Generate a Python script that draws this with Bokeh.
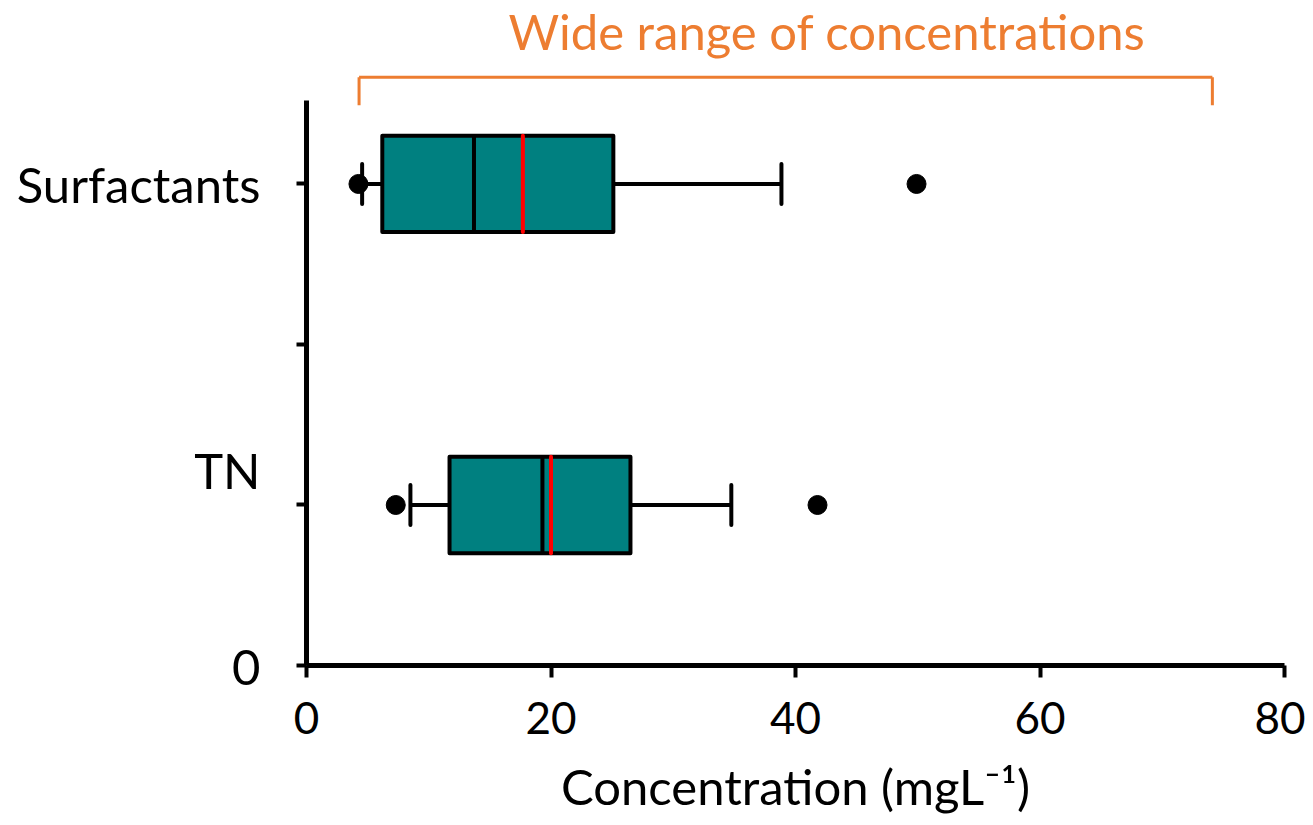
from bokeh.plotting import figure
from bokeh.models import ColumnDataSource, Range1d, FixedTicker, Label
from bokeh.embed import file_html
from bokeh.resources import INLINE

# ---- data ----
categories = ["Surfactants", "TN"]
positions = [3, 1]
whisker_low = [4.55, 8.5]
q1 = [6.2, 11.7]
median = [13.7, 19.3]
mean = [17.7, 20.0]
q3 = [25.1, 26.5]
whisker_high = [38.85, 34.75]

outlier_positions = [3, 3, 1, 1]
outlier_values = [4.25, 49.9, 7.3, 41.8]

y_ticks = [0, 1, 2, 3]
y_tick_labels = ["0", "TN\n", "", "Surfactants"]
x_ticks = [0, 20, 40, 60, 80]
x_title = "Concentration (mgL\u207b\u00b9)"

bracket_x = [4.3, 74.1]
bracket_top = 3.665
bracket_bottom = 3.49
annotation_text = "Wide range of concentrations"
annotation_pos = (42.58, 3.95)

BOX_H = 0.6
CAP_H = 0.25
FONT = "Lato"
ORANGE = "#ED7D31"
TEAL = "#008080"

src = ColumnDataSource(dict(
    cat=categories, pos=positions, wlo=whisker_low, q1=q1, med=median,
    mean=mean, q3=q3, whi=whisker_high,
    y0=[p - BOX_H / 2 for p in positions], y1=[p + BOX_H / 2 for p in positions],
    c0=[p - CAP_H / 2 for p in positions], c1=[p + CAP_H / 2 for p in positions],
))
out_src = ColumnDataSource(dict(x=outlier_values, y=outlier_positions))

p = figure(width=1305, height=817, output_backend="svg", toolbar_location=None,
           x_range=Range1d(0, 80), y_range=Range1d(0, 4.143),
           min_border_left=306, min_border_right=21, min_border_top=0,
           min_border_bottom=150)
p.outline_line_color = None
p.grid.visible = False
p.background_fill_color = "white"
p.border_fill_color = "white"

# whiskers
p.segment(x0="wlo", y0="pos", x1="q1", y1="pos", source=src, line_color="black", line_width=4)
p.segment(x0="q3", y0="pos", x1="whi", y1="pos", source=src, line_color="black", line_width=4)
p.segment(x0="wlo", y0="c0", x1="wlo", y1="c1", source=src, line_color="black", line_width=4, line_cap="round")
p.segment(x0="whi", y0="c0", x1="whi", y1="c1", source=src, line_color="black", line_width=4, line_cap="round")
# boxes
p.quad(left="q1", right="q3", bottom="y0", top="y1", source=src,
       fill_color=TEAL, line_color="black", line_width=4, line_join="round")
# median & mean
p.segment(x0="med", y0="y0", x1="med", y1="y1", source=src, line_color="black", line_width=4)
p.segment(x0="mean", y0="y0", x1="mean", y1="y1", source=src, line_color="#FF0000", line_width=4, line_cap="round")
# outliers
p.scatter(x="x", y="y", source=out_src, size=19, fill_color="black", line_color="black")

# bracket annotation
p.segment(x0=[bracket_x[0]], y0=[bracket_top], x1=[bracket_x[1]], y1=[bracket_top],
          line_color=ORANGE, line_width=3)
p.segment(x0=bracket_x, y0=[bracket_top] * 2, x1=bracket_x, y1=[bracket_bottom] * 2,
          line_color=ORANGE, line_width=3)
p.add_layout(Label(x=annotation_pos[0], y=annotation_pos[1], text=annotation_text,
                   text_color=ORANGE, text_font=FONT, text_font_size="49px",
                   text_align="center", text_baseline="middle"))

# axes
xa = p.xaxis[0]
xa.ticker = FixedTicker(ticks=x_ticks)
xa.axis_label = x_title
xa.axis_label_text_font = FONT
xa.axis_label_text_font_size = "49px"
xa.axis_label_text_font_style = "normal"
xa.axis_label_text_color = "black"
xa.axis_label_standoff = 20
xa.major_label_text_font = FONT
xa.major_label_text_font_size = "44px"
xa.major_label_text_color = "black"
xa.major_label_standoff = 24
xa.axis_line_width = 5
xa.major_tick_line_width = 4
xa.major_tick_out = 12
xa.major_tick_in = 0
xa.minor_tick_line_color = None

ya = p.yaxis[0]
ya.ticker = FixedTicker(ticks=y_ticks)
ya.major_label_overrides = {t: l for t, l in zip(y_ticks, y_tick_labels)}
ya.bounds = (0, 3.52)
ya.major_label_text_font = FONT
ya.major_label_text_font_size = "49px"
ya.major_label_text_color = "black"
ya.major_label_standoff = 36
ya.axis_line_width = 5
ya.major_tick_line_width = 4
ya.major_tick_out = 10
ya.major_tick_in = 0
ya.minor_tick_line_color = None

open("out.html", "w").write(file_html(p, INLINE))
